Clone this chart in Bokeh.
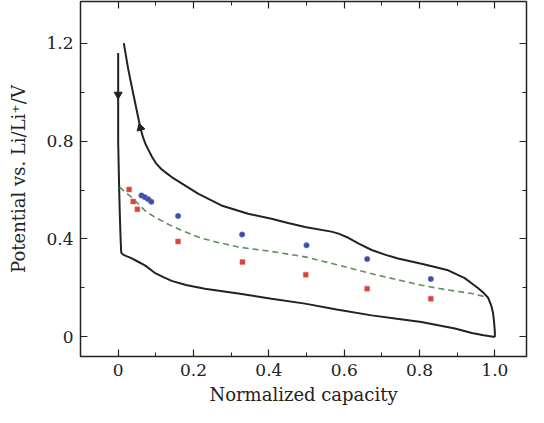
from bokeh.plotting import figure
from bokeh.models import LinearAxis, FixedTicker, Range1d
from bokeh.embed import file_html
from bokeh.resources import INLINE

# ---------------- data ----------------
# lithiation (discharge) curve, going down
discharge_x = [0.0, 0.0, 0.002, 0.004, 0.006, 0.008, 0.013, 0.022, 0.035, 0.053, 0.071,
               0.097, 0.12, 0.142, 0.18, 0.23, 0.319, 0.407, 0.496, 0.58, 0.673,
               0.74, 0.805, 0.894, 0.939, 0.97, 1.0]
discharge_y = [1.16, 0.80, 0.65, 0.52, 0.42, 0.345, 0.336, 0.33, 0.322, 0.307, 0.292,
               0.262, 0.244, 0.229, 0.212, 0.197, 0.177, 0.156, 0.136, 0.112, 0.088,
               0.074, 0.061, 0.034, 0.016, 0.007, 0.0]

# delithiation (charge) curve, going up
charge_x = [1.0, 1.0, 0.998, 0.995, 0.99, 0.982, 0.97, 0.955, 0.939, 0.92, 0.876,
            0.83, 0.805, 0.743, 0.71, 0.673, 0.64, 0.611, 0.585, 0.566, 0.496,
            0.451, 0.407, 0.345, 0.274, 0.212, 0.177, 0.142, 0.13, 0.115, 0.10,
            0.09, 0.08, 0.072, 0.065, 0.059, 0.05, 0.04, 0.0265, 0.015]
charge_y = [0.0, 0.02, 0.06, 0.10, 0.13, 0.16, 0.18, 0.20, 0.218, 0.24, 0.272,
            0.29, 0.299, 0.320, 0.335, 0.355, 0.38, 0.405, 0.422, 0.430, 0.449,
            0.465, 0.483, 0.503, 0.537, 0.585, 0.619, 0.653, 0.667, 0.685, 0.71,
            0.735, 0.765, 0.79, 0.82, 0.854, 0.92, 0.993, 1.095, 1.20]

# dashed fit
fit_x = [0.004, 0.018, 0.035, 0.053, 0.075, 0.097, 0.133, 0.168, 0.212, 0.248, 0.319,
         0.407, 0.496, 0.58, 0.673, 0.74, 0.805, 0.87, 0.939, 0.98]
fit_y = [0.612, 0.592, 0.571, 0.544, 0.51, 0.49, 0.46, 0.435, 0.408, 0.392, 0.367,
         0.349, 0.327, 0.295, 0.258, 0.234, 0.211, 0.193, 0.177, 0.162]

# red squares
red_x = [0.029, 0.040, 0.051, 0.159, 0.330, 0.498, 0.661, 0.830]
red_y = [0.602, 0.553, 0.521, 0.390, 0.306, 0.254, 0.197, 0.156]

# blue circles
blue_x = [0.062, 0.071, 0.080, 0.088, 0.159, 0.329, 0.500, 0.661, 0.830]
blue_y = [0.578, 0.570, 0.562, 0.552, 0.494, 0.418, 0.374, 0.318, 0.237]

# direction arrows on the curves
arrow_down_x = [0.0]
arrow_down_y = [0.99]
arrow_up_x = [0.059]
arrow_up_y = [0.854]

x_ticks = [0, 0.2, 0.4, 0.6, 0.8, 1.0]
x_tick_labels = ["0", "0.2", "0.4", "0.6", "0.8", "1.0"]
x_minor = [-0.1, 0.1, 0.3, 0.5, 0.7, 0.9]
y_ticks = [0, 0.4, 0.8, 1.2]
y_tick_labels = ["0", "0.4", "0.8", "1.2"]
y_minor = [0.2, 0.6, 1.0]

FONT = "DejaVu Serif"
INK = "#222222"

p = figure(width=528, height=407, output_backend="svg", toolbar_location=None,
           x_range=Range1d(-0.1, 1.084), y_range=Range1d(-0.08, 1.37),
           min_border_left=80, min_border_right=2, min_border_top=1,
           min_border_bottom=50,
           background_fill_color="white", border_fill_color="white")
p.grid.visible = False
p.outline_line_color = INK
p.outline_line_width = 1.5

def style_axis(ax, ticks, minor, labels=None):
    ax.ticker = FixedTicker(ticks=ticks, minor_ticks=minor)
    ax.axis_line_color = None
    ax.major_tick_in = 7
    ax.major_tick_out = 0
    ax.minor_tick_in = 4
    ax.minor_tick_out = 0
    ax.major_tick_line_color = INK
    ax.minor_tick_line_color = INK
    ax.major_tick_line_width = 1.2
    ax.minor_tick_line_width = 1.0
    if labels is None:
        ax.major_label_text_font_size = "0px"
        ax.major_label_text_color = None
        ax.major_label_standoff = 0
    else:
        ax.major_label_overrides = {t: l for t, l in zip(ticks, labels)}
        ax.major_label_text_font = FONT
        ax.major_label_text_font_size = "17px"
        ax.major_label_text_color = INK
        ax.major_label_standoff = 7
        ax.axis_label_text_font = FONT
        ax.axis_label_text_font_size = "18px"
        ax.axis_label_text_font_style = "normal"
        ax.axis_label_text_color = INK

style_axis(p.xaxis[0], x_ticks, x_minor, x_tick_labels)
style_axis(p.yaxis[0], y_ticks, y_minor, y_tick_labels)
p.xaxis[0].axis_label = "Normalized capacity"
p.yaxis[0].axis_label = "Potential vs. Li/Li\u207a/V"
p.xaxis[0].axis_label_standoff = 5
p.yaxis[0].axis_label_standoff = 14

top_axis = LinearAxis()
style_axis(top_axis, x_ticks, x_minor)
p.add_layout(top_axis, "above")
right_axis = LinearAxis()
style_axis(right_axis, y_ticks, y_minor)
p.add_layout(right_axis, "right")

p.line(discharge_x, discharge_y, line_color=INK, line_width=2)
p.line(charge_x, charge_y, line_color=INK, line_width=2)
p.line(fit_x, fit_y, line_color="#5f8f5f", line_width=1.6, line_dash="6 4")

p.scatter(red_x, red_y, marker="square", size=5, fill_color="#d9413e",
          line_color="#e07070", line_width=0.5)
p.scatter(blue_x, blue_y, marker="circle", size=5.5, fill_color="#3a4ea2",
          line_color="#6a7ac0", line_width=0.5)

p.scatter(arrow_down_x, arrow_down_y, marker="inverted_triangle", size=8,
          fill_color=INK, line_color=INK)
p.scatter(arrow_up_x, arrow_up_y, marker="triangle", size=8, angle=0.26,
          fill_color=INK, line_color=INK)

open("out.html", "w").write(file_html(p, INLINE))
